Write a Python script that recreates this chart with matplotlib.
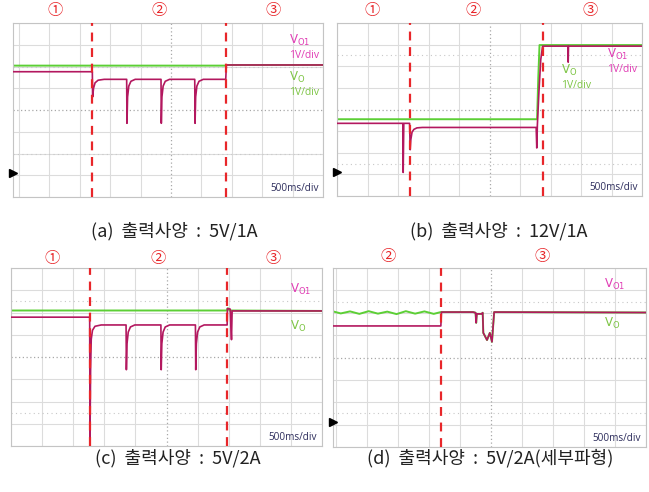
import matplotlib
matplotlib.use('Agg')
import matplotlib.pyplot as plt

plt.rcParams['font.family'] = ['Noto Sans CJK KR', 'DejaVu Sans']

W, H = 649, 492

# traces, x in divisions (500ms/div), y in divisions (1V/div)
a_vo_t = [-0.2, 6.80, 6.82, 10.0]
a_vo_v = [6.04, 6.04, 6.07, 6.07]
a_vo1_t = [-0.2, 2.41, 2.42, 2.45, 2.50, 2.60, 2.80,
           3.54, 3.55, 3.57, 3.61, 3.68, 3.82,
           4.67, 4.68, 4.70, 4.74, 4.81, 4.95,
           5.78, 5.79, 5.81, 5.85, 5.92, 6.06,
           6.80, 6.82, 10.0]
a_vo1_v = [5.76, 5.76, 4.60, 5.00, 5.25, 5.37, 5.41,
           5.41, 3.39, 4.60, 5.10, 5.32, 5.41,
           5.41, 3.39, 4.60, 5.10, 5.32, 5.41,
           5.41, 3.39, 4.60, 5.10, 5.32, 5.41,
           5.41, 6.07, 6.07]

b_vo_t = [0.0, 6.56, 6.60, 6.64, 10.0]
b_vo_v = [3.55, 3.55, 5.50, 6.98, 6.98]
b_vo1_t = [0.0, 2.16, 2.17, 2.19, 2.38, 2.40, 2.42, 2.46, 2.52, 2.62, 2.80,
           6.53, 6.55, 6.57, 6.62, 6.68, 6.74, 7.57, 7.58, 7.59, 10.0]
b_vo1_v = [3.36, 3.36, 1.09, 3.36, 3.36, 2.14, 2.60, 2.95, 3.08, 3.15, 3.17,
           3.17, 2.22, 3.30, 4.80, 6.30, 6.93, 6.93, 6.19, 6.93, 6.93]

c_vo_t = [0.0, 6.94, 6.96, 7.00, 7.02, 10.0]
c_vo_v = [6.09, 6.09, 6.18, 6.18, 6.09, 6.07]
c_vo1_t = [0.0, 2.53, 2.54, 2.56, 2.58, 2.62, 2.70, 2.90,
           3.70, 3.71, 3.73, 3.77, 3.84, 3.98,
           4.82, 4.83, 4.85, 4.89, 4.96, 5.10,
           5.93, 5.94, 5.96, 6.00, 6.07, 6.21,
           6.95, 6.96, 7.05, 7.07, 7.09, 7.11, 10.0]
c_vo1_v = [5.79, 5.79, 0.30, 3.50, 4.80, 5.20, 5.38, 5.44,
           5.44, 3.43, 4.60, 5.12, 5.35, 5.44,
           5.44, 3.43, 4.60, 5.12, 5.35, 5.44,
           5.44, 3.43, 4.60, 5.12, 5.35, 5.44,
           5.44, 6.18, 6.15, 5.40, 4.78, 6.07, 6.07]

d_vo_t = [-0.1, 0.15, 0.45, 0.75, 1.05, 1.35, 1.65, 1.95, 2.25, 2.55, 2.85, 3.15, 3.38,
          3.40, 4.42, 4.50, 4.52, 4.54, 4.70, 4.73, 4.75, 4.87, 4.96, 5.03, 5.10, 10.0]
d_vo_v = [6.06, 5.97, 6.06, 5.95, 6.07, 5.96, 6.05, 5.94, 6.07, 5.96, 6.06, 5.95, 6.03,
          6.03, 6.03, 6.00, 5.55, 5.95, 5.95, 6.00, 5.10, 4.78, 5.10, 4.70, 6.03, 6.01]
d_vo1_t = [-0.1, 3.38, 3.40, 4.42, 4.50, 4.52, 4.54, 4.70, 4.73, 4.75, 4.87, 4.96, 5.03, 5.10, 10.0]
d_vo1_v = [5.41, 5.41, 6.03, 6.03, 6.00, 5.55, 5.95, 5.95, 6.00, 5.10, 4.78, 5.10, 4.70, 6.03, 6.01]

a_marks = [2.41, 6.81]
b_marks = [2.38, 6.74]
c_marks = [2.53, 6.96]
d_marks = [3.39]

captions = ['(a)  출력사양  :  5V/1A', '(b)  출력사양  :  12V/1A',
            '(c)  출력사양  :  5V/2A', '(d)  출력사양  :  5V/2A(세부파형)']

GREEN = '#5ccf35'
CRIMSON = '#b3185f'
PINK = '#e03cb4'
LGREEN = '#7cc443'
RED = '#e8262a'
NAVY = '#2d2d5c'


def px(x, y):
    return x / W, 1 - y / H


# box of grid in pixels: left, top, right, bottom, and xmin in div
panels = [
    dict(box=(13, 23, 323, 197), xmin=-0.2, vo=(a_vo_t, a_vo_v), vo1=(a_vo1_t, a_vo1_v), marks=a_marks,
         nums=[('①', 55), ('②', 159), ('③', 273)], numy=11, rows=[2, 6],
         vo1_lbl=(8.88, 7.2), vo_lbl=(8.88, 5.5), div=True, trig=1.1,
         cap=(174, 231)),
    dict(box=(337, 23, 642, 196), xmin=0.0, vo=(b_vo_t, b_vo_v), vo1=(b_vo1_t, b_vo1_v), marks=b_marks,
         nums=[('①', 372), ('②', 473), ('③', 590)], numy=10, rows=[1.5, 6.5],
         vo1_lbl=(8.84, 6.55), vo_lbl=(7.33, 5.8), div=True, trig=1.1,
         cap=(499, 231)),
    dict(box=(11, 268, 322, 446), xmin=0.0, vo=(c_vo_t, c_vo_v), vo1=(c_vo1_t, c_vo1_v), marks=c_marks,
         nums=[('①', 52), ('②', 158), ('③', 273)], numy=258, rows=[1.5, 6.5],
         vo1_lbl=(8.96, 7.03), vo_lbl=(8.96, 5.36), div=False, trig=None,
         cap=(178, 458)),
    dict(box=(333, 268, 646, 447), xmin=-0.1, vo=(d_vo_t, d_vo_v), vo1=(d_vo1_t, d_vo1_v), marks=d_marks,
         nums=[('②', 388), ('③', 542)], numy=257, rows=[1.5, 6.5],
         vo1_lbl=(8.64, 7.25), vo_lbl=(8.64, 5.54), div=False, trig=1.1,
         cap=(490, 458)),
]

fig = plt.figure(figsize=(W / 100, H / 100), dpi=100)

for i, p in enumerate(panels):
    l, t, r, b = p['box']
    ax = fig.add_axes([l / W, 1 - b / H, (r - l) / W, (b - t) / H])
    ax.set_xlim(p['xmin'], 10)
    ax.set_ylim(0, 8)
    ax.set_xticks([])
    ax.set_yticks([])
    for s in ax.spines.values():
        s.set_color('#c4c4c4')
        s.set_linewidth(0.8)
    for k in range(11):
        if k != 5:
            ax.axvline(k, color='#dcdcdc', lw=0.8, zorder=0)
    for k in range(9):
        if k != 4:
            ax.axhline(k, color='#dcdcdc', lw=0.8, zorder=0)
    for y in p['rows']:
        ax.axhline(y, color='#c8c8c8', lw=0.8, ls=(0, (1, 3)), zorder=0)
    ax.axvline(5, color='#a8a8a8', lw=0.9, ls=(0, (1, 2)), zorder=0)
    ax.axhline(4, color='#a8a8a8', lw=0.9, ls=(0, (1, 2)), zorder=0)

    ax.plot(p['vo'][0], p['vo'][1], color=GREEN, lw=1.4, zorder=2)
    ax.plot(p['vo1'][0], p['vo1'][1], color=CRIMSON, lw=1.2, zorder=3)

    for m in p['marks']:
        ax.axvline(m, color=RED, lw=1.6, ls=(0, (4, 3)), zorder=4)

    if p['trig'] is not None:
        ax.plot([p['xmin']], [p['trig']], marker='>', color='black', ms=6,
                clip_on=False, zorder=5)

    x1, y1 = p['vo1_lbl']
    x0, y0 = p['vo_lbl']
    ax.text(x1, y1, r'V$_{\mathrm{O1}}$', color=PINK, fontsize=8.5, va='center', ha='left',
            family='DejaVu Sans')
    ax.text(x0, y0, r'V$_{\mathrm{O}}$', color=LGREEN, fontsize=8.5, va='center', ha='left',
            family='DejaVu Sans')
    if p['div']:
        ax.text(x1, y1 - 0.68, '1V/div', color=PINK, fontsize=7.5, va='center', ha='left',
                family='Open Sans')
        ax.text(x0, y0 - 0.68, '1V/div', color=LGREEN, fontsize=7.5, va='center', ha='left',
                family='Open Sans')
    ax.text(9.85, 0.4, '500ms/div', color=NAVY, fontsize=7.2, va='center', ha='right',
            family='Open Sans')

    for s, x in p['nums']:
        fig.text(*px(x, p['numy']), s, color=RED, fontsize=11, ha='center', va='center')

    fig.text(*px(*p['cap']), captions[i], fontsize=13, ha='center', va='center', color='#222222')

fig.savefig('out.png', dpi=100)
